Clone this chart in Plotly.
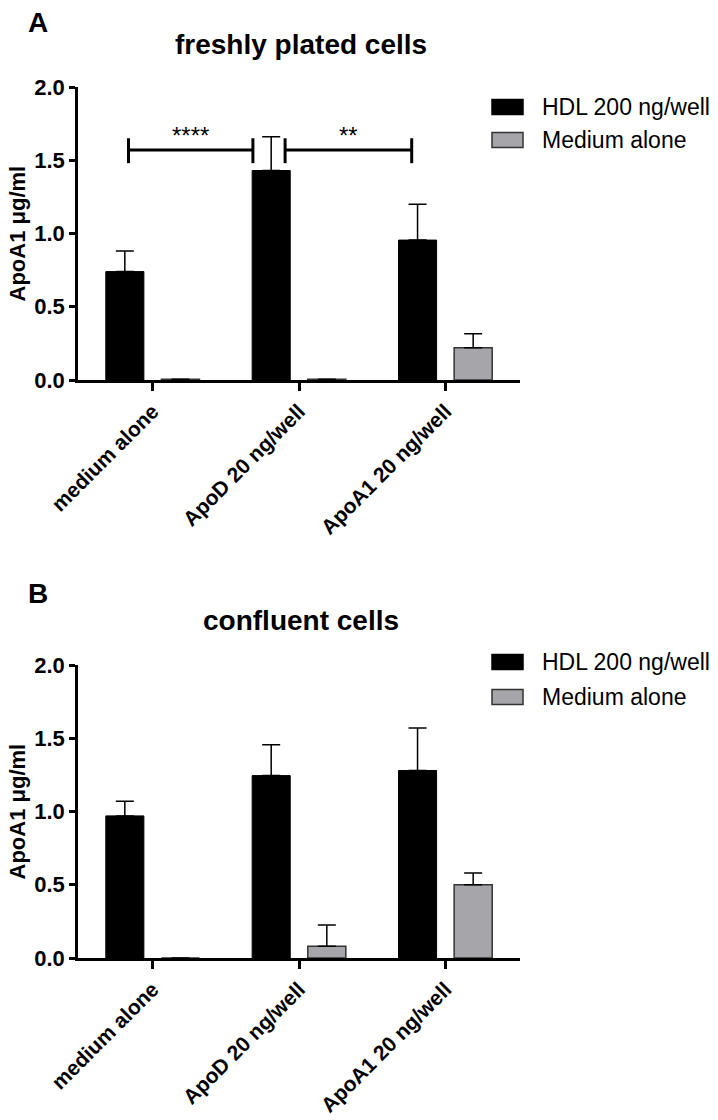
import plotly.graph_objects as go

categories = ["medium alone", "ApoD 20 ng/well", "ApoA1 20 ng/well"]
series_names = ["HDL 200 ng/well", "Medium alone"]

# Panel A: freshly plated cells
a_hdl = [0.74, 1.43, 0.955]
a_hdl_err = [0.14, 0.23, 0.245]
a_med = [0.005, 0.005, 0.22]
a_med_err = [None, None, 0.095]

# Panel B: confluent cells
b_hdl = [0.97, 1.245, 1.28]
b_hdl_err = [0.10, 0.21, 0.29]
b_med = [0.0, 0.08, 0.50]
b_med_err = [None, 0.145, 0.08]

# significance brackets (panel A): start, end (category units), level, label
sig_start = [-0.165, 0.905]
sig_end = [0.685, 1.77]
sig_level = [1.57, 1.57]
sig_label = ["****", "**"]

y_ticks = [0, 0.5, 1.0, 1.5, 2.0]

FONT = "Arial, 'Liberation Sans', sans-serif"
BLACK = "#000000"
GRAY = "#a6a6aa"
W, H = 718, 1120

xpos = list(range(len(categories)))

fig = go.Figure()

def add_panel(hdl, hdl_err, med, med_err, xa, ya):
    fig.add_trace(go.Bar(
        x=xpos, y=hdl, name=series_names[0], xaxis=xa, yaxis=ya,
        width=0.26, offset=-0.32,
        marker=dict(color=BLACK, line=dict(color=BLACK, width=1)),
        error_y=dict(type="data", array=hdl_err, arrayminus=[0]*len(hdl_err),
                     symmetric=False, color=BLACK, thickness=1.5, width=9),
        showlegend=False))
    fig.add_trace(go.Bar(
        x=xpos, y=med, name=series_names[1], xaxis=xa, yaxis=ya,
        width=0.26, offset=0.06,
        marker=dict(color=GRAY, line=dict(color="#333333", width=1.5)),
        error_y=dict(type="data", array=med_err, arrayminus=[0]*len(med_err),
                     symmetric=False, color=BLACK, thickness=1.5, width=9),
        showlegend=False))

add_panel(a_hdl, a_hdl_err, a_med, a_med_err, "x", "y")
add_panel(b_hdl, b_hdl_err, b_med, b_med_err, "x2", "y2")

xdom = [78 / W, 520 / W]
ydomA = [1 - 380 / H, 1 - 87 / H]
ydomB = [1 - 958 / H, 1 - 665 / H]

xaxis_common = dict(
    range=[-0.51, 2.51], tickvals=xpos, ticktext=categories, tickangle=-45,
    showline=True, linecolor=BLACK, linewidth=2.5, ticks="outside", ticklen=8,
    tickwidth=2.5, tickcolor=BLACK, showgrid=False, zeroline=False,
    tickfont=dict(family=FONT, size=21, color=BLACK, weight="bold"),
    domain=xdom, fixedrange=True, automargin=False)
yaxis_common = dict(
    range=[0, 2.0], tickvals=y_ticks, tickformat=".1f",
    showline=True, linecolor=BLACK, linewidth=2.5, ticks="outside", ticklen=6,
    tickwidth=2.5, tickcolor=BLACK, showgrid=False, zeroline=False,
    tickfont=dict(family=FONT, size=22, color=BLACK, weight="bold"),
    fixedrange=True, automargin=False)

fig.update_layout(
    width=W, height=H, margin=dict(l=0, r=0, t=0, b=0, autoexpand=False),
    paper_bgcolor="white", plot_bgcolor="white", barmode="overlay",
    xaxis=dict(xaxis_common, anchor="y"),
    yaxis=dict(yaxis_common, domain=ydomA, anchor="x"),
    xaxis2=dict(xaxis_common, anchor="y2"),
    yaxis2=dict(yaxis_common, domain=ydomB, anchor="x2"),
)

shapes = []
annotations = []
# significance brackets
for s, e, lv, lab in zip(sig_start, sig_end, sig_level, sig_label):
    shapes.append(dict(type="line", xref="x", yref="y", x0=s, x1=e, y0=lv, y1=lv,
                       line=dict(color=BLACK, width=3)))
    for xx in (s, e):
        shapes.append(dict(type="line", xref="x", yref="y", x0=xx, x1=xx,
                           y0=lv - 0.09, y1=lv + 0.08, line=dict(color=BLACK, width=3)))
    annotations.append(dict(x=(s + e) / 2, y=lv - 0.01, xref="x", yref="y", text=lab,
                            showarrow=False, yanchor="bottom",
                            font=dict(family=FONT, size=24, color=BLACK)))

# panel letters, titles, y titles, legends
for letter, ly, title, ty, ydom in [("A", 5, "freshly plated cells", 45, ydomA),
                                     ("B", 576, "confluent cells", 620, ydomB)]:
    annotations.append(dict(x=26 / W, y=1 - ly / H, xref="paper", yref="paper", text=letter,
                            showarrow=False, xanchor="left", yanchor="top",
                            font=dict(family=FONT, size=28, color=BLACK, weight="bold")))
    annotations.append(dict(x=301 / W, y=1 - ty / H, xref="paper", yref="paper", text=title,
                            showarrow=False, xanchor="center", yanchor="middle",
                            font=dict(family=FONT, size=28, color=BLACK, weight="bold")))
    annotations.append(dict(x=17 / W, y=(ydom[0] + ydom[1]) / 2, xref="paper", yref="paper",
                            text="ApoA1 μg/ml", textangle=-90, showarrow=False,
                            xanchor="center", yanchor="middle",
                            font=dict(family=FONT, size=22, color=BLACK, weight="bold")))

legend_rows = [(107, 140), (662, 697)]
for (r1, r2) in legend_rows:
    for yy, name, col, lc in [(r1, series_names[0], BLACK, BLACK), (r2, series_names[1], GRAY, "#333333")]:
        shapes.append(dict(type="rect", xref="paper", yref="paper",
                           x0=492 / W, x1=523 / W, y0=1 - (yy + 7.5) / H, y1=1 - (yy - 7.5) / H,
                           fillcolor=col, line=dict(color=lc, width=1.5)))
        annotations.append(dict(x=540 / W, y=1 - yy / H, xref="paper", yref="paper", text=name,
                                showarrow=False, xanchor="left", yanchor="middle",
                                font=dict(family=FONT, size=23, color=BLACK)))

fig.update_layout(shapes=shapes, annotations=annotations)
fig.write_html("out.html", config={"displayModeBar": False},
               post_script="document.body.style.margin='0';document.body.style.overflow='hidden';")
